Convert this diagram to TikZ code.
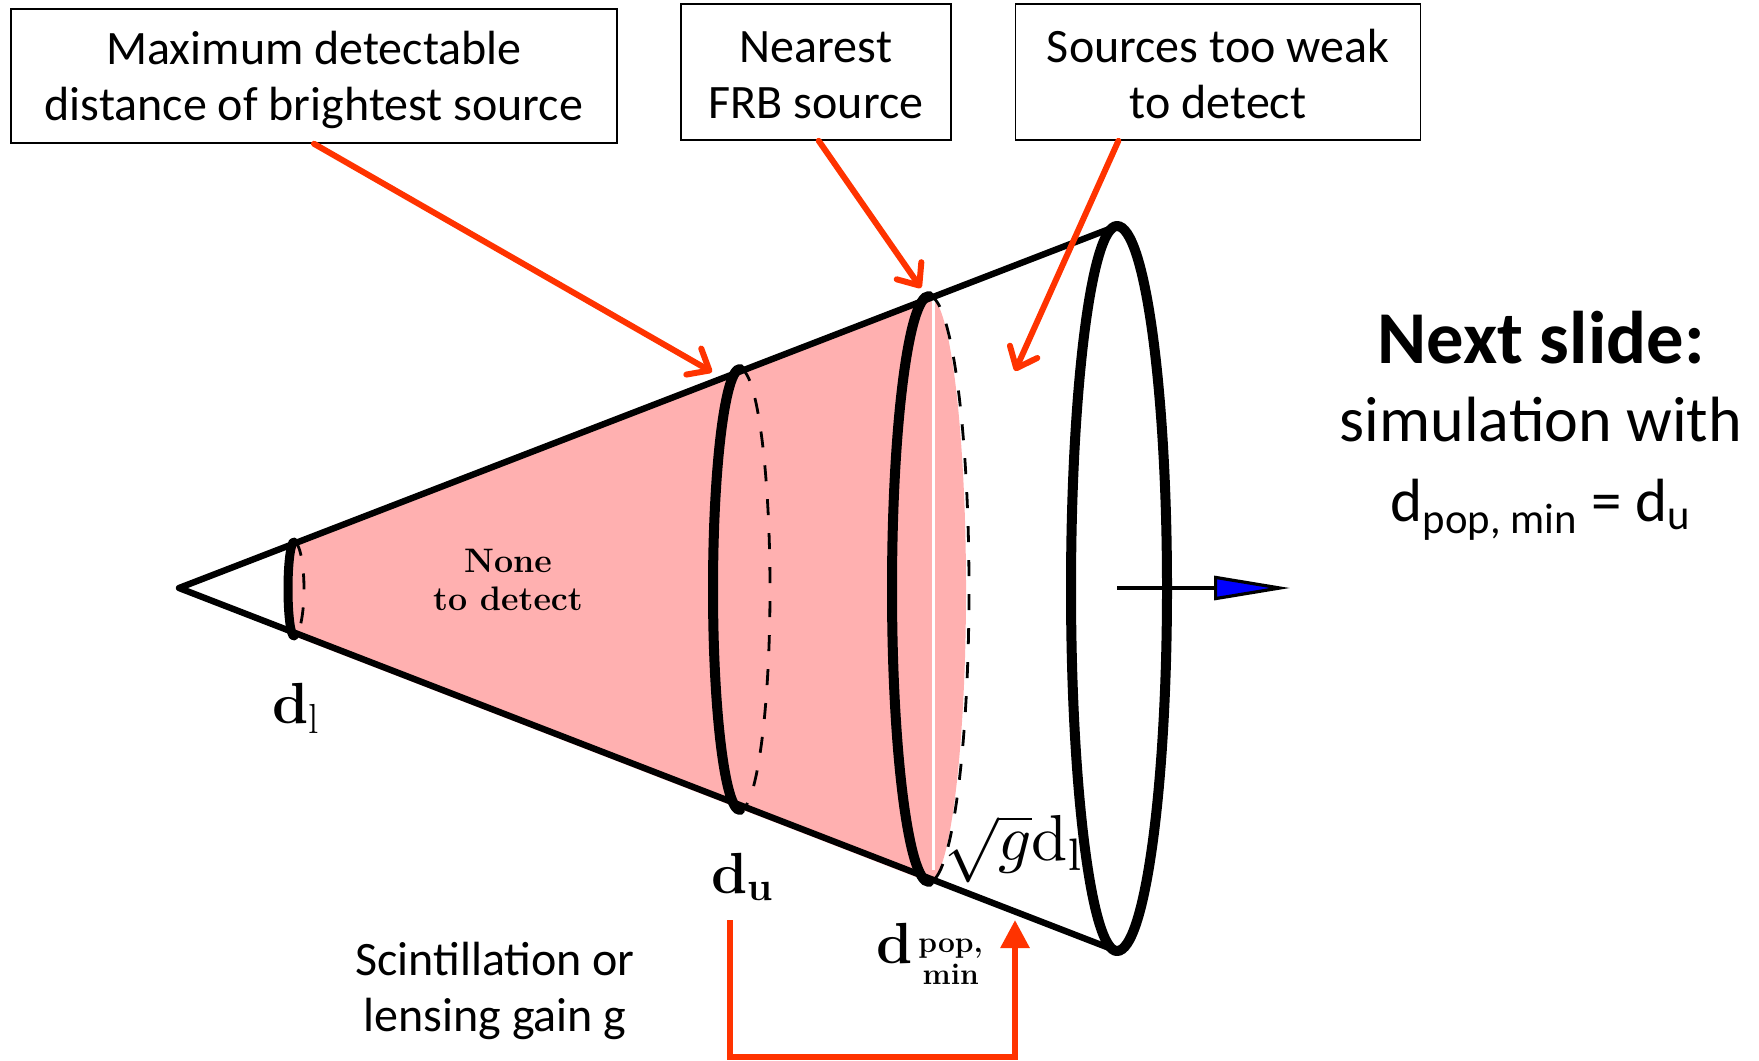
\documentclass[tikz,border=0pt]{standalone}
\usepackage{fontspec}
\setsansfont{Carlito}
\usepackage{graphicx}
\usepackage{tikz}
\usetikzlibrary{arrows.meta,calc}
\definecolor{flame}{HTML}{FF3300}
\definecolor{blush}{HTML}{FFB0B0}

\begin{document}
\begin{tikzpicture}[x=0.5pt,y=-0.5pt,
callout/.style={draw,line width=0.8pt,align=center,font=\sffamily\fontsize{24}{28}\selectfont,inner sep=0pt},
plain/.style={align=center,inner sep=0pt},
rim/.style={line width=5pt,line cap=round},
back/.style={line width=1.4pt,dash pattern=on 8pt off 9pt},
pointer/.style={flame,line width=3pt,line cap=round,-{Straight Barb[length=9pt,width=15pt,line width=3pt,round]}}]
\useasboundingbox (0,0) rectangle (1759,1060);
% cone corners
\coordinate (apex) at (179,588);
\coordinate (ltop) at (294,542);\coordinate (lbot) at (294,636);
\coordinate (utop) at (740,369);\coordinate (ubot) at (740,810);
\coordinate (ptop) at (929,296);\coordinate (pbot) at (929,882);
\coordinate (etop) at (1117,226);\coordinate (ebot) at (1117,951);
% pink part
\fill[blush] (ltop)--(ptop) arc[start angle=270,delta angle=180,x radius=37,y radius=293]--(lbot) arc[start angle=90,delta angle=180,x radius=6,y radius=47]--cycle;
\fill[white] (932,300) rectangle (935,870);
\draw[line width=3.2pt,line cap=round,line join=round] (etop)--(apex)--(ebot);
% rims
\draw[rim,line width=4.5pt] (ltop) arc[start angle=270,delta angle=-180,x radius=6,y radius=47];
\draw[back] (ltop) arc[start angle=270,delta angle=180,x radius=10,y radius=47];
\draw[rim] (utop) arc[start angle=270,delta angle=-180,x radius=27,y radius=220.5];
\draw[back] (utop) arc[start angle=270,delta angle=180,x radius=30,y radius=220.5];
\draw[rim] (ptop) arc[start angle=270,delta angle=-180,x radius=37,y radius=293];
\draw[back] (ptop) arc[start angle=270,delta angle=180,x radius=40,y radius=293];
\draw[rim] (etop) arc[start angle=270,delta angle=-180,x radius=46,y radius=362.5];
\draw[rim] (etop) arc[start angle=270,delta angle=180,x radius=50,y radius=362.5];
% direction
\coordinate (axis) at (1117,588);\coordinate (axistip) at (1290,588);
\draw[line width=1.6pt,-{Triangle[length=38pt,width=12pt,fill=blue]}] (axis)--(axistip);
% boxes
\node[callout,minimum width=303pt,minimum height=67pt] (maxbox) at (314,76) {\rule{0pt}{21pt}Maximum detectable\\distance of brightest source};
\node[callout,minimum width=135pt,minimum height=68pt] (nearbox) at (816,72) {\rule{0pt}{19pt}Nearest\\FRB source};
\node[callout,minimum width=202.5pt,minimum height=68pt] (weakbox) at (1218,72) {\rule{0pt}{19pt}Sources too weak\\to detect};
\coordinate (maxtip) at (712,372);\coordinate (neartip) at (921,288);\coordinate (weaktip) at (1015,371);
\draw[pointer] (maxbox.south)--(maxtip);
\draw[pointer] ($(nearbox.south west)!0.51!(nearbox.south east)$)--(neartip);
\draw[pointer] ($(weakbox.south west)!0.255!(weakbox.south east)$)--(weaktip);
% labels
\node[plain,font=\bfseries\fontsize{17}{19}\selectfont] (none) at (508,580) {None\\to detect};
\node[plain,font=\bfseries\fontsize{29}{30}\selectfont] (dlow) at (296,708) {d\raisebox{-5pt}{\fontsize{21}{21}\selectfont\mdseries l}};
\node[plain,font=\bfseries\fontsize{29}{30}\selectfont] (dup) at (743,877) {d\textsubscript{u}};
\node[plain,font=\bfseries\fontsize{29}{30}\selectfont] (dpop) at (895,944) {d};
\node[plain,font=\bfseries\fontsize{15}{16}\selectfont,right=0pt] (popmin) at (918,962) {pop,\\min};
\node[plain] (gain) at (1015,849) {\scalebox{3.25}{$\sqrt{g}\mathrm{d}_{\mathrm{l}}$}};
\node[plain,font=\sffamily\fontsize{24}{28}\selectfont] (scint) at (495,991) {Scintillation or\\lensing gain g};
\node[plain,font=\sffamily\bfseries\fontsize{37.3}{40}\selectfont] (next) at (1541,338) {Next slide:};
\node[plain,font=\sffamily\fontsize{32}{40}\selectfont] (sim) at (1541,469) {simulation with\\\fontsize{30.5}{40}\selectfont d\textsubscript{pop, min} = d\textsubscript{u}};
% gain bracket
\coordinate (brstart) at (730,920);\coordinate (brend) at (1015,920);\coordinate (brlow) at (730,1057);
\draw[flame,line width=3pt,-{Triangle[length=14pt,width=14pt]}] (brstart)--(brlow)-|(brend);
\end{tikzpicture}
\end{document}
